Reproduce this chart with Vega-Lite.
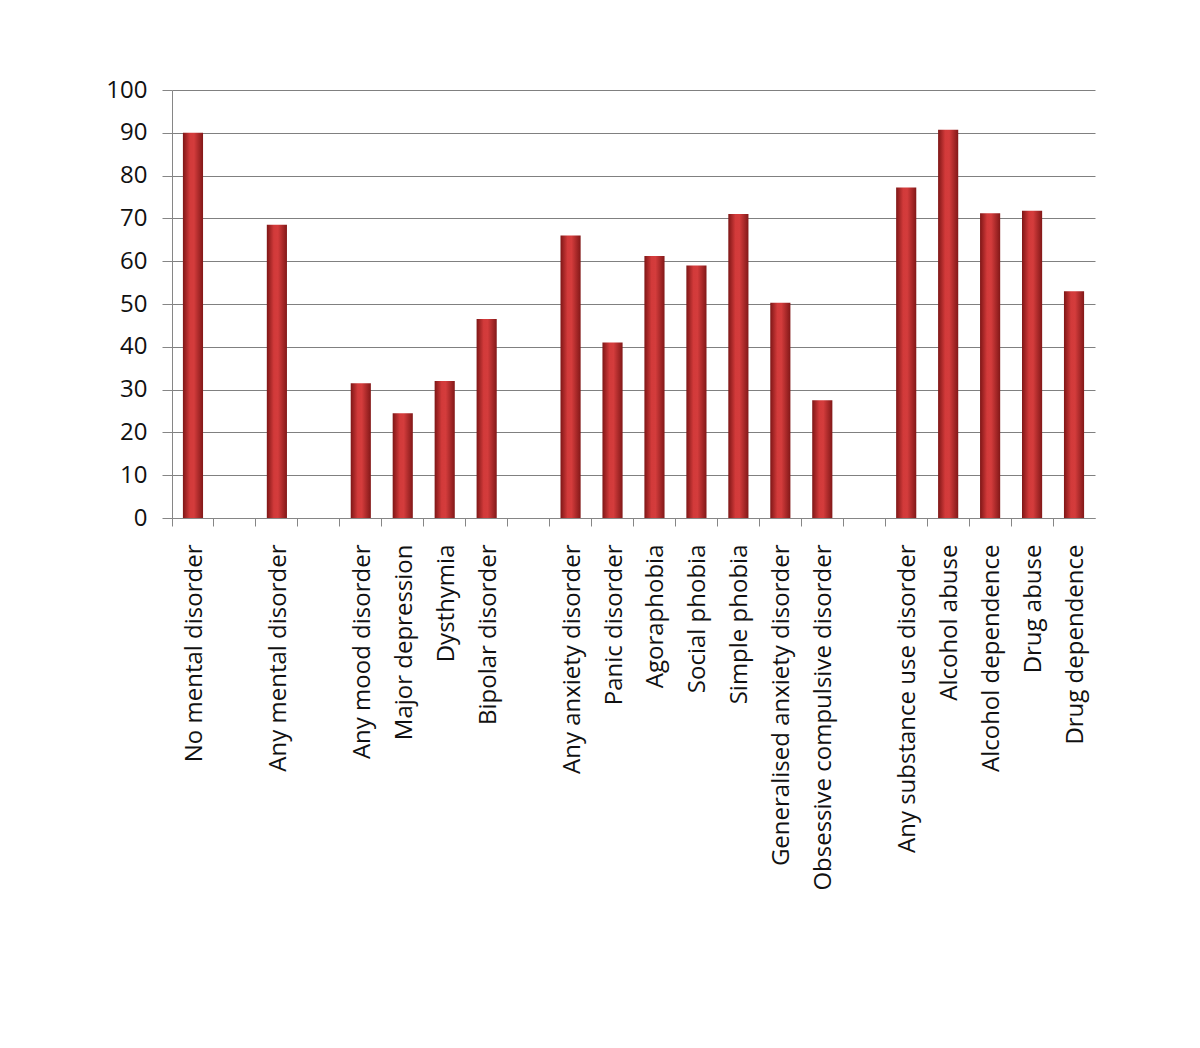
{
  "$schema": "https://vega.github.io/schema/vega-lite/v6.json",
  "width": 923,
  "height": 428,
  "autosize": {"type": "none"},
  "padding": {"left": 172, "top": 90, "right": 105, "bottom": 530},
  "background": "white",
  "data": {
    "values": [
      {"cat": "No mental disorder", "pct": 90},
      {"cat": "Any mental disorder", "pct": 68.5},
      {"cat": "Any mood disorder", "pct": 31.5},
      {"cat": "Major depression", "pct": 24.5},
      {"cat": "Dysthymia", "pct": 32},
      {"cat": "Bipolar disorder", "pct": 46.5},
      {"cat": "Any anxiety disorder", "pct": 66},
      {"cat": "Panic disorder", "pct": 41},
      {"cat": "Agoraphobia", "pct": 61.2},
      {"cat": "Social phobia", "pct": 59},
      {"cat": "Simple phobia", "pct": 71},
      {"cat": "Generalised  anxiety disorder", "pct": 50.3},
      {"cat": "Obsessive compulsive disorder", "pct": 27.5},
      {"cat": "Any substance use disorder", "pct": 77.2},
      {"cat": "Alcohol abuse", "pct": 90.7},
      {"cat": "Alcohol dependence", "pct": 71.2},
      {"cat": "Drug abuse", "pct": 71.8},
      {"cat": "Drug dependence", "pct": 53}
    ]
  },
  "mark": {
    "type": "bar",
    "color": {
      "gradient": "linear",
      "x1": 0, "x2": 1, "y1": 0, "y2": 0,
      "stops": [
        {"offset": 0, "color": "#7e1616"},
        {"offset": 0.35, "color": "#d23a3a"},
        {"offset": 0.55, "color": "#d43c3c"},
        {"offset": 1, "color": "#821818"}
      ]
    }
  },
  "encoding": {
    "x": {
      "field": "cat",
      "type": "nominal",
      "scale": {
        "domain": ["No mental disorder", "g1", "Any mental disorder", "g2", "Any mood disorder", "Major depression", "Dysthymia", "Bipolar disorder", "g3", "Any anxiety disorder", "Panic disorder", "Agoraphobia", "Social phobia", "Simple phobia", "Generalised  anxiety disorder", "Obsessive compulsive disorder", "g4", "Any substance use disorder", "Alcohol abuse", "Alcohol dependence", "Drug abuse", "Drug dependence"],
        "paddingInner": 0.52,
        "paddingOuter": 0.26
      },
      "axis": {
        "title": null,
        "labelExpr": "indexof(datum.value, 'g') == 0 && length(datum.value) == 2 ? '' : datum.value",
        "labelAngle": -90,
        "labelAlign": "right",
        "labelBaseline": "middle",
        "labelPadding": 18,
        "labelFont": "Open Sans",
        "labelFontSize": 24,
        "labelColor": "#111111",
        "labelLimit": 450,
        "bandPosition": -0.54,
        "labelOffset": 2,
        "tickSize": 8,
        "tickColor": "#868686",
        "domainColor": "#868686",
        "grid": false
      }
    },
    "y": {
      "field": "pct",
      "type": "quantitative",
      "scale": {"domain": [0, 100], "nice": false},
      "axis": {
        "title": null,
        "values": [0, 10, 20, 30, 40, 50, 60, 70, 80, 90, 100],
        "labelFont": "Open Sans",
        "labelFontSize": 24,
        "labelColor": "#111111",
        "labelPadding": 15,
        "tickSize": 10,
        "tickColor": "#868686",
        "domainColor": "#868686",
        "grid": true,
        "gridColor": "#808080",
        "gridWidth": 1
      }
    }
  },
  "config": {
    "view": {"stroke": null}
  }
}
